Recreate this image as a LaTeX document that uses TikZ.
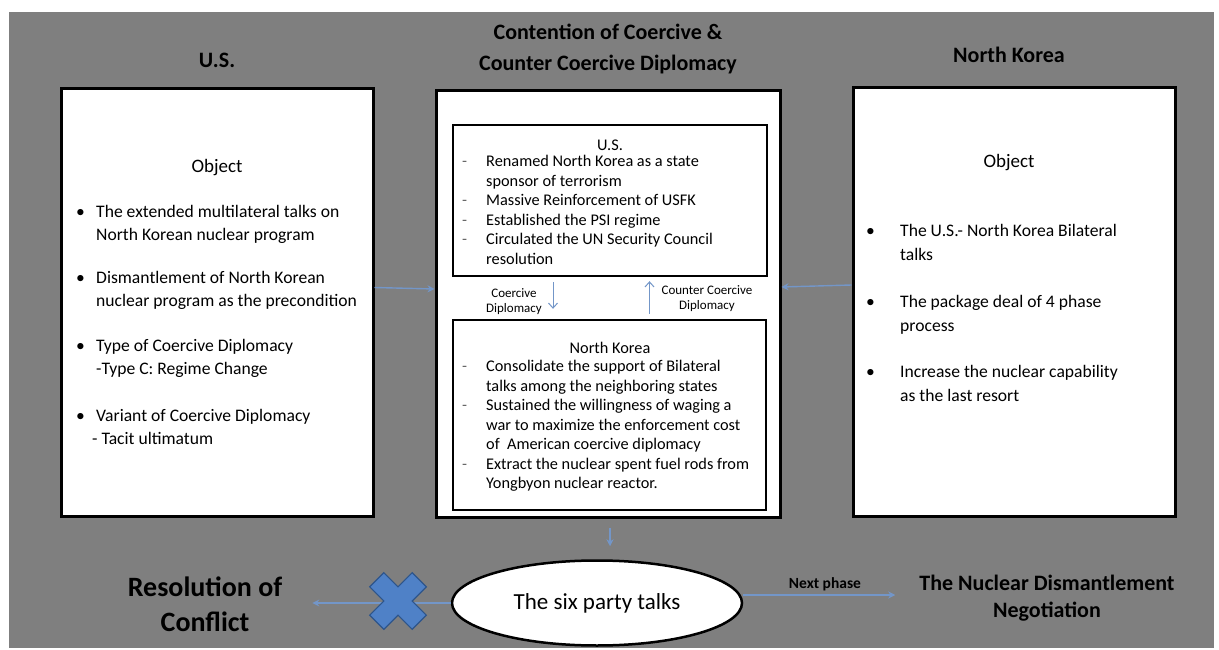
\documentclass[tikz,border=0pt]{standalone}
\usepackage{fontspec}
\setmainfont{Carlito}
\usetikzlibrary{arrows.meta,shapes.geometric}

\definecolor{panelgrey}{RGB}{127,127,127}
\definecolor{flowblue}{RGB}{115,150,200}
\definecolor{crossblue}{RGB}{79,129,199}
\definecolor{crossedge}{RGB}{45,85,140}

\newcommand{\bul}[1]{\makebox[#1][l]{\textbullet}}
\newcommand{\dsh}{\makebox[24pt][l]{\textcolor{black!60}{-}}}

\begin{document}
\begin{tikzpicture}[
  x=1pt, y=-1pt,
  panel/.style = {draw=black, line width=3pt, fill=white, inner sep=0pt},
  inner/.style = {draw=black, line width=2.4pt, fill=white, inner sep=0pt},
  title/.style = {font=\fontsize{22}{31}\selectfont\bfseries, align=center, inner sep=0pt},
  body/.style  = {font=\fontsize{17.6}{23}\selectfont, align=left, inner sep=0pt},
  small/.style = {font=\fontsize{16.3}{19.5}\selectfont, align=left, inner sep=0pt},
  tiny/.style  = {font=\fontsize{13}{15}\selectfont, align=center, inner sep=0pt},
  flow/.style  = {draw=flowblue, line width=1.4pt, -{Stealth[length=7pt,width=7pt]}},
  push/.style  = {draw=flowblue, line width=1pt, -{Straight Barb[length=5pt,width=9pt]}}
  ]
  \useasboundingbox (0,0) rectangle (1219,650);
  \fill[white] (0,0) rectangle (1219,650);
  \fill[panelgrey] (9,12) rectangle (1214,648);

  % column titles
  \node[title] (ustitle) at (217,60) {U.S.};
  \node[title] (midtitle) at (608,49) {Contention of Coercive \&\\Counter Coercive Diplomacy};
  \node[title] (nktitle) at (1009,55) {North Korea};

  % U.S. column
  \node[panel, minimum width=312pt, minimum height=427pt] (usbox) at (217,302.5) {};
  \node[body, font=\fontsize{19}{23}\selectfont] (usobj) at (217,168) {Object};
  \node[body, anchor=north west] (uslist) at (76,205) {%
    \bul{20pt}The extended multilateral talks on\\
    \hspace*{20pt}North Korean nuclear program\\[20pt]
    \bul{20pt}Dismantlement of North Korean\\
    \hspace*{20pt}nuclear program as the precondition\\[22pt]
    \bul{20pt}Type of Coercive Diplomacy\\
    \hspace*{20pt}-Type C: Regime Change\\[24pt]
    \bul{20pt}Variant of Coercive Diplomacy\\
    \hspace*{16pt}- Tacit ultimatum};

  % contention column
  \node[panel, minimum width=344pt, minimum height=426pt] (midbox) at (608,304) {};
  \node[inner, minimum width=314pt, minimum height=151pt] (usact) at (610,200.5) {};
  \node[small] (usacttitle) at (610,145) {U.S.};
  \node[small, anchor=north west] (usactlist) at (462,155) {%
    \dsh Renamed North Korea as a state\\
    \hspace*{24pt}sponsor of terrorism\\
    \dsh Massive Reinforcement of USFK\\
    \dsh Established the PSI regime\\
    \dsh Circulated the UN Security Council\\
    \hspace*{24pt}resolution};
  \node[inner, minimum width=313pt, minimum height=190pt] (nkact) at (609.5,415) {};
  \node[small] (nkacttitle) at (610,348) {North Korea};
  \node[small, anchor=north west] (nkactlist) at (462,360) {%
    \dsh Consolidate the support of Bilateral\\
    \hspace*{24pt}talks among the neighboring states\\
    \dsh Sustained the willingness of waging a\\
    \hspace*{24pt}war to maximize the enforcement cost\\
    \hspace*{24pt}of~ American coercive diplomacy\\
    \dsh Extract the nuclear spent fuel rods from\\
    \hspace*{24pt}Yongbyon nuclear reactor.};
  \node[tiny] (coercive) at (514,302) {Coercive\\Diplomacy};
  \node[tiny] (counter) at (707,299) {Counter Coercive\\Diplomacy};
  \draw[push, shorten <=5pt, shorten >=10pt] ([xshift=-57pt]usact.south) -- ([xshift=-57pt]usact.south |- nkact.north);
  \draw[push, shorten <=5pt, shorten >=4pt] ([xshift=40pt]nkact.north) -- ([xshift=40pt]nkact.north |- usact.south);

  % North Korea column
  \node[panel, minimum width=322pt, minimum height=428pt] (nkbox) at (1014,302) {};
  \node[body, font=\fontsize{19}{23}\selectfont] (nkobj) at (1009,163) {Object};
  \node[body, font=\fontsize{17.6}{24}\selectfont, anchor=north west] (nklist) at (866,224) {%
    \bul{34pt}The U.S.- North Korea Bilateral\\
    \hspace*{34pt}talks\\[23pt]
    \bul{34pt}The package deal of 4 phase\\
    \hspace*{34pt}process\\[22pt]
    \bul{34pt}Increase the nuclear capability\\
    \hspace*{34pt}as the last resort};

  % outcome row
  \node[draw=black, line width=2.5pt, fill=white, ellipse, minimum width=290pt,
    minimum height=85pt, font=\fontsize{23}{27}\selectfont] (sixparty) at (597,603) {The six party talks};
  \node[font=\fontsize{28}{35}\selectfont\bfseries, align=center, inner sep=0pt] (resol) at (205,604) {Resolution of\\Conflict};
  \node[font=\fontsize{22}{27}\selectfont\bfseries, align=center, inner sep=0pt] (dismantle) at (1047,598) {The Nuclear Dismantlement\\Negotiation};
  \node[inner sep=0pt, minimum size=60pt] (block) at (398,601) {};

  \draw[flow] ([yshift=15pt]usbox.east) -- ([yshift=15pt]midbox.west);
  \draw[flow] ([yshift=17pt]nkbox.west) -- ([yshift=17pt]midbox.east);
  \draw[flow, shorten <=9pt, shorten >=13pt] ([xshift=2pt]midbox.south) -- ([xshift=2pt]midbox.south |- sixparty.north);
  \draw[flow, shorten >=30pt] (sixparty.west) -- (sixparty.west -| resol.east);
  \draw[flow, shorten >=24pt] ([yshift=8pt]sixparty.east) -- ([yshift=8pt]sixparty.east -| dismantle.west);
  \node[font=\fontsize{15.5}{18}\selectfont\bfseries, inner sep=0pt] (nextphase) at (825,584) {Next phase};

  % blocking cross
  \filldraw[fill=crossblue, draw=crossedge, line width=1.2pt, rotate around={45:(block.center)}]
    ([shift={(-10pt,-30pt)}]block.center) -- ++(20pt,0) -- ++(0,20pt) -- ++(20pt,0)
    -- ++(0,20pt) -- ++(-20pt,0) -- ++(0,20pt) -- ++(-20pt,0) -- ++(0,-20pt)
    -- ++(-20pt,0) -- ++(0,-20pt) -- ++(20pt,0) -- cycle;
\end{tikzpicture}
\end{document}
